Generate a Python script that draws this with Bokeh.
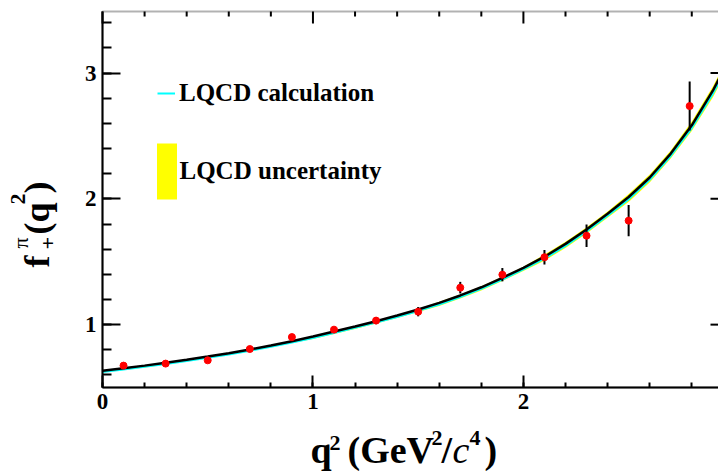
from math import pi

from bokeh.embed import file_html
from bokeh.models import (BoxAnnotation, ColumnDataSource, Label, Legend, LegendItem,
                          LinearAxis, Range1d, SingleIntervalTicker)
from bokeh.plotting import figure
from bokeh.resources import INLINE

# ---- form factor curves on a q^2 grid (GeV^2/c^4) ----
q2_curve = [0.0, 0.1, 0.2, 0.3, 0.4, 0.5, 0.6, 0.7, 0.8, 0.9,
            1.0, 1.1, 1.2, 1.3, 1.4, 1.5, 1.6, 1.7, 1.8, 1.9,
            2.0, 2.1, 2.2, 2.3, 2.4, 2.5, 2.6, 2.7, 2.8, 2.9, 2.95]
fit_curve = [0.633, 0.653, 0.674, 0.697, 0.721, 0.746, 0.773, 0.802, 0.834, 0.868,
             0.905, 0.945, 0.985, 1.027, 1.072, 1.120, 1.173, 1.232, 1.297, 1.372,
             1.452, 1.540, 1.642, 1.757, 1.882, 2.015, 2.170, 2.360, 2.585, 2.860, 3.020]
lqcd_central = [0.623, 0.643, 0.664, 0.687, 0.711, 0.736, 0.763, 0.792, 0.824, 0.858,
                0.894, 0.934, 0.974, 1.016, 1.061, 1.109, 1.160, 1.219, 1.284, 1.359,
                1.439, 1.524, 1.626, 1.741, 1.866, 1.996, 2.151, 2.341, 2.563, 2.835, 2.993]
lqcd_low = [0.619, 0.639, 0.660, 0.683, 0.707, 0.732, 0.759, 0.788, 0.820, 0.854,
            0.886, 0.926, 0.966, 1.008, 1.053, 1.101, 1.148, 1.207, 1.272, 1.347,
            1.427, 1.508, 1.610, 1.725, 1.850, 1.976, 2.131, 2.321, 2.539, 2.807, 2.963]
lqcd_high = [0.633, 0.653, 0.674, 0.697, 0.721, 0.746, 0.773, 0.802, 0.834, 0.868,
             0.909, 0.949, 0.989, 1.031, 1.076, 1.124, 1.181, 1.240, 1.305, 1.380,
             1.460, 1.558, 1.660, 1.775, 1.900, 2.039, 2.194, 2.384, 2.615, 2.894, 3.056]

# ---- measured points with uncertainties ----
q2_data = [0.1, 0.3, 0.5, 0.7, 0.9, 1.1, 1.3, 1.5, 1.7, 1.9, 2.1, 2.3, 2.5, 2.79]
f_data = [0.674, 0.690, 0.716, 0.806, 0.901, 0.960, 1.032, 1.103, 1.294, 1.397,
          1.536, 1.707, 1.827, 2.738]
f_err = [0.012, 0.013, 0.014, 0.016, 0.018, 0.020, 0.028, 0.037, 0.046, 0.053,
         0.058, 0.090, 0.125, 0.195]

legend_labels = ["LQCD calculation", "LQCD uncertainty"]

# tick values of the unlabelled top and right frame edges
top_major_ticks = [0, 1, 2]
top_minor_ticks = [0.2, 0.4, 0.6, 0.8, 1.2, 1.4, 1.6, 1.8, 2.2, 2.4, 2.6, 2.8]
right_major_ticks = [1, 2, 3]

# visible axis box in data units
X_LO, X_HI = 0.0, 2.927
Y_LO, Y_HI = 0.5, 3.49

FONT = "Liberation Serif"
W, H = 718, 471
BOX_LEFT, BOX_RIGHT, BOX_TOP, BOX_BOTTOM = 102, 718, 11, 387

# the plotting area spans the whole canvas; the axis box sits inside it
sx = (BOX_RIGHT - BOX_LEFT) / (X_HI - X_LO)
sy = (BOX_BOTTOM - BOX_TOP) / (Y_HI - Y_LO)
x_range = Range1d(X_LO - BOX_LEFT / sx, X_HI + (W - BOX_RIGHT) / sx)
y_range = Range1d(Y_LO - (H - BOX_BOTTOM) / sy, Y_HI + BOX_TOP / sy)

p = figure(width=W, height=H, x_range=x_range, y_range=y_range,
           x_axis_type=None, y_axis_type=None,
           output_backend="svg", toolbar_location=None,
           min_border=0)
p.outline_line_color = None
p.background_fill_color = "white"
p.border_fill_color = "white"


def make_axis(at, bounds, tick_in, minor_in):
    ax = LinearAxis(ticker=SingleIntervalTicker(interval=1, num_minor_ticks=5),
                    fixed_location=at, bounds=bounds)
    ax.axis_line_width = 2
    ax.axis_line_color = "black"
    ax.major_tick_line_width = 2
    ax.minor_tick_line_width = 2
    ax.major_tick_line_color = "black"
    ax.minor_tick_line_color = "black"
    ax.major_tick_in = tick_in
    ax.major_tick_out = 0
    ax.minor_tick_in = minor_in
    ax.minor_tick_out = 0
    ax.major_label_text_font = FONT
    ax.major_label_text_font_style = "bold"
    ax.major_label_text_color = "black"
    ax.major_label_text_font_size = "23px"
    ax.major_label_standoff = 6
    return ax


p.add_layout(make_axis(Y_LO, (X_LO, X_HI), 12, 5), "below")
p.add_layout(make_axis(X_LO, (Y_LO, Y_HI), 18, 9), "left")

# frame: top edge drawn here, right edge falls just outside the canvas
p.add_layout(BoxAnnotation(left=X_LO, right=X_HI + 0.2, bottom=Y_LO, top=Y_HI,
                           fill_alpha=0, line_color="black", line_width=2,
                           level="underlay"))

# inward ticks on the top and right edges
tick_style = dict(line_color="black", line_width=2)
p.segment(x0=top_major_ticks, y0=[Y_HI] * len(top_major_ticks),
          x1=top_major_ticks, y1=[Y_HI - 12 / sy] * len(top_major_ticks), **tick_style)
p.segment(x0=top_minor_ticks, y0=[Y_HI] * len(top_minor_ticks),
          x1=top_minor_ticks, y1=[Y_HI - 5 / sy] * len(top_minor_ticks), **tick_style)
p.segment(x0=[X_HI] * len(right_major_ticks), y0=right_major_ticks,
          x1=[X_HI - 8 / sx] * len(right_major_ticks), y1=right_major_ticks, **tick_style)

curve = ColumnDataSource(dict(q2=q2_curve, fit=fit_curve, lqcd=lqcd_central,
                              lo=lqcd_low, hi=lqcd_high))
band = p.varea(x="q2", y1="lo", y2="hi", source=curve, fill_color="#ffff00")
central = p.line("q2", "lqcd", source=curve, line_color="#00ffff", line_width=2)
p.line("q2", "fit", source=curve, line_color="black", line_width=2.5)

points = ColumnDataSource(dict(
    q2=q2_data, f=f_data,
    lo=[v - e for v, e in zip(f_data, f_err)],
    hi=[v + e for v, e in zip(f_data, f_err)]))
p.segment(x0="q2", y0="lo", x1="q2", y1="hi", source=points,
          line_color="black", line_width=2)
p.scatter("q2", "f", source=points, size=7, fill_color="#ff0000", line_color="#ff0000")


def legend_box(item, loc, gw, gh, standoff):
    lg = Legend(items=[item], location=loc, orientation="vertical",
                glyph_width=gw, glyph_height=gh, label_height=gh,
                label_standoff=standoff, padding=0, margin=0, spacing=0,
                border_line_color=None, background_fill_alpha=0,
                label_text_font=FONT, label_text_font_style="bold",
                label_text_font_size="25px", label_text_color="black")
    p.add_layout(lg, "center")


legend_box(LegendItem(label=legend_labels[0], renderers=[central]), (157, H - 109), 18, 32, 4)
legend_box(LegendItem(label=legend_labels[1], renderers=[band]), (153.5, H - 206), 25, 70, 1)

# labels are anchored on their vertical middle; this is the middle-to-baseline
# distance as a fraction of the font size
MID = 0.25


def title_piece(text, cx, base, size, style="bold", rotated=False):
    """Place a piece of an axis title by its start and its baseline (pixels)."""
    if rotated:
        x, y, angle = base - MID * size, H - cx, pi / 2
    else:
        x, y, angle = cx, H - (base - MID * size), 0.0
    p.add_layout(Label(x=x, y=y, x_units="screen", y_units="screen",
                       text=text, angle=angle, text_font=FONT,
                       text_font_size=f"{size}px", text_font_style=style,
                       text_color="black", text_align="left",
                       text_baseline="middle"))


# x-axis title: q^2 (GeV^2/c^4)
title_piece("q", 310, 459, 38)
title_piece("2", 329, 448, 22)
title_piece("(GeV", 347, 459, 38)
title_piece("2", 431, 443, 22)
title_piece("/", 441, 459, 38)
title_piece("c", 452, 459, 38, style="italic")
title_piece("4", 469, 443, 22)
title_piece(")", 484, 459, 38)

# y-axis title: f_+^pi(q^2), written bottom-to-top (start = lower end)
title_piece("f", 267, 45, 36, rotated=True)
title_piece("\u03c0", 248, 25, 22, style="normal", rotated=True)
title_piece("+", 249, 53, 22, rotated=True)
title_piece("(q", 234, 45, 36, rotated=True)
title_piece("2", 204, 23, 22, rotated=True)
title_piece(")", 193, 45, 36, rotated=True)

open("out.html", "w").write(file_html(p, INLINE))
